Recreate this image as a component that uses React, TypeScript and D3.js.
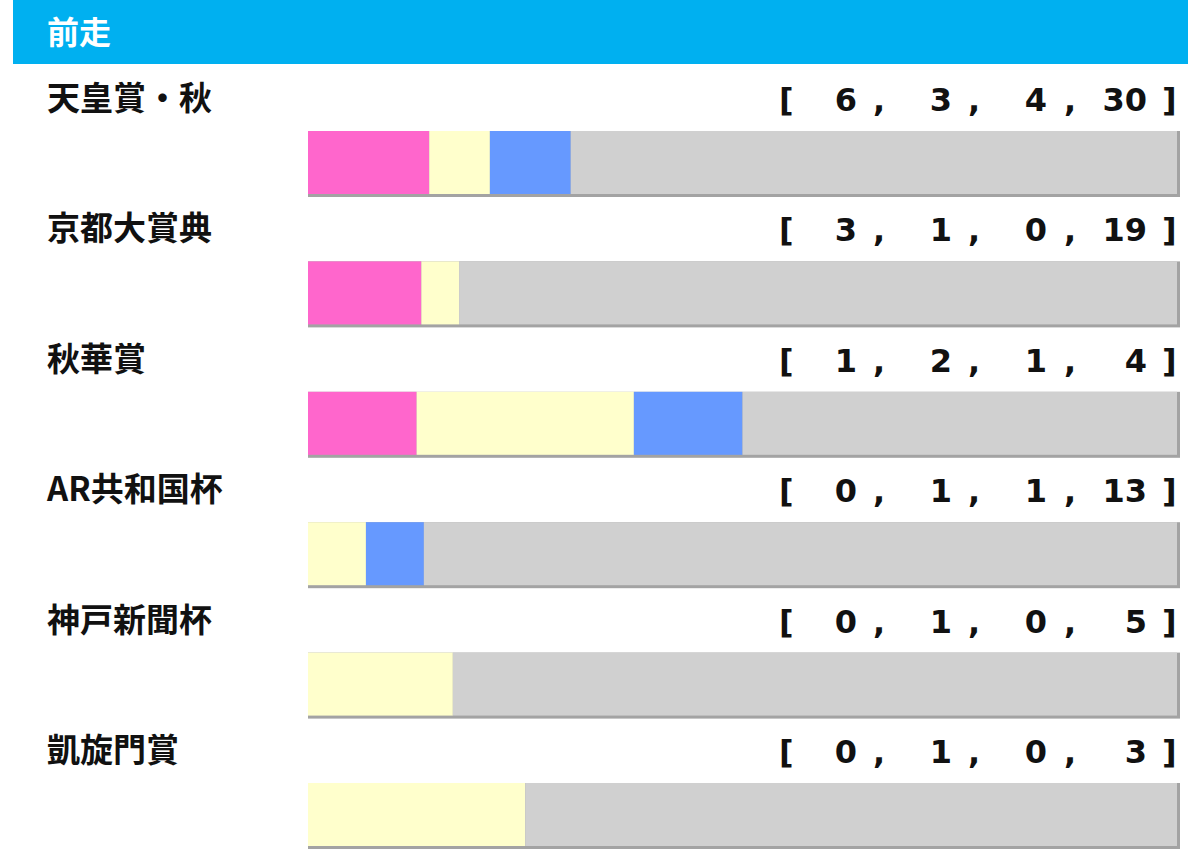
import React from "react";
import * as d3 from "d3";

const categories: string[] = ["天皇賞・秋", "京都大賞典", "秋華賞", "AR共和国杯", "神戸新聞杯", "凱旋門賞"];
const firstPlace: number[] = [6, 3, 1, 0, 0, 0];
const secondPlace: number[] = [3, 1, 2, 1, 1, 1];
const thirdPlace: number[] = [4, 0, 1, 1, 0, 0];
const outOfPlace: number[] = [30, 19, 4, 13, 5, 3];
const seriesColors: string[] = ["#ff66cc", "#ffffcc", "#6699ff", "#d0d0d0"];
const title = "前走";

const W = 1200;
const H = 852;
const barLeft = 308;
const barRight = 1177;
const rowStep = 130.4;
const barTop0 = 131;
const barH = 63;
const labelBase0 = 110;
const numBase0 = 111;
const numCols = [857, 952, 1047, 1147];
const commaCols = [873, 968, 1064];

const jpFont = "'Noto Sans CJK JP', 'Noto Sans', sans-serif";
const numFont = "'DejaVu Sans', Verdana, sans-serif";

export default function App() {
  const rows = categories.map((c, i) => ({
    name: c,
    vals: [firstPlace[i], secondPlace[i], thirdPlace[i], outOfPlace[i]],
  }));
  return (
    <svg width={W} height={H} style={{ position: "absolute", left: 0, top: 0, background: "#fff" }}>
      <rect x={13} y={0} width={1175} height={64} fill="#00b0f0" />
      <text x={47} y={44} fill="#fff" fontFamily={jpFont} fontWeight={700} fontSize={32}>
        {title}
      </text>
      {rows.map((r, i) => {
        const total = d3.sum(r.vals);
        const x = d3.scaleLinear().domain([0, total]).range([barLeft, barRight]);
        const stack = d3.cumsum(r.vals);
        const top = barTop0 + i * rowStep;
        const lb = labelBase0 + i * rowStep;
        const nb = numBase0 + i * rowStep;
        return (
          <g key={r.name}>
            <text x={47} y={lb} fontFamily={jpFont} fontWeight={700} fontSize={33} fill="#111">
              {r.name}
            </text>
            <g fontFamily={numFont} fontWeight={700} fontSize={32} fill="#111">
              <text x={779} y={nb}>[</text>
              {r.vals.map((v, k) => (
                <text key={k} x={numCols[k]} y={nb} textAnchor="end">{v}</text>
              ))}
              {commaCols.map((cx, k) => (
                <text key={"c" + k} x={cx} y={nb}>,</text>
              ))}
              <text x={1162} y={nb}>]</text>
            </g>
            <rect x={barLeft} y={top} width={barRight - barLeft + 3} height={barH + 3} fill="#a3a3a3" />
            {r.vals.map((v, k) => {
              const x0 = x(stack[k] - v);
              const x1 = x(stack[k]);
              if (v === 0) return null;
              return <rect key={k} x={x0} y={top} width={x1 - x0} height={barH} fill={seriesColors[k]} />;
            })}
          </g>
        );
      })}
    </svg>
  );
}
